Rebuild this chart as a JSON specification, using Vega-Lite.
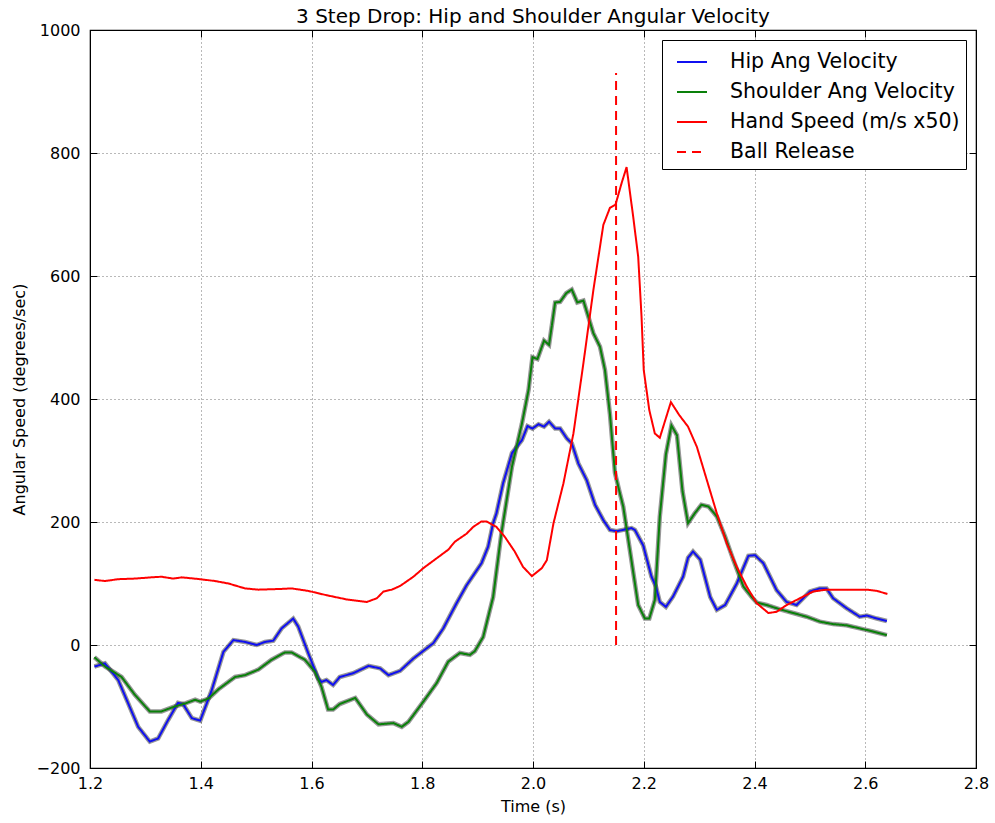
{
  "$schema": "https://vega.github.io/schema/vega-lite/v6.json",
  "width": 886,
  "height": 738,
  "autosize": {"type": "none"},
  "padding": {"left": 90, "top": 30, "right": 19, "bottom": 55},
  "background": "white",
  "title": {
    "text": "3 Step Drop: Hip and Shoulder Angular Velocity",
    "font": "DejaVu Sans",
    "fontSize": 20,
    "fontWeight": "normal",
    "color": "black",
    "anchor": "middle",
    "baseline": "alphabetic",
    "offset": -21
  },
  "config": {
    "view": {"stroke": "black", "strokeWidth": 1.2},
    "axis": {
      "labelFont": "DejaVu Sans",
      "labelFontSize": 16,
      "labelColor": "black",
      "titleFont": "DejaVu Sans",
      "titleFontSize": 16,
      "titleFontWeight": "normal",
      "titleColor": "black",
      "domainColor": "black",
      "tickColor": "black",
      "gridColor": "black",
      "gridDash": [1, 3],
      "gridOpacity": 0.55,
      "gridWidth": 1
    }
  },
  "data": {
    "values": [
      {"series": "Hip Ang Velocity", "t": 1.208, "v": -35},
      {"series": "Hip Ang Velocity", "t": 1.227, "v": -30},
      {"series": "Hip Ang Velocity", "t": 1.251, "v": -57},
      {"series": "Hip Ang Velocity", "t": 1.269, "v": -95},
      {"series": "Hip Ang Velocity", "t": 1.287, "v": -133},
      {"series": "Hip Ang Velocity", "t": 1.308, "v": -157},
      {"series": "Hip Ang Velocity", "t": 1.323, "v": -152},
      {"series": "Hip Ang Velocity", "t": 1.341, "v": -122},
      {"series": "Hip Ang Velocity", "t": 1.359, "v": -94},
      {"series": "Hip Ang Velocity", "t": 1.368, "v": -96},
      {"series": "Hip Ang Velocity", "t": 1.384, "v": -119},
      {"series": "Hip Ang Velocity", "t": 1.399, "v": -123},
      {"series": "Hip Ang Velocity", "t": 1.42, "v": -73},
      {"series": "Hip Ang Velocity", "t": 1.441, "v": -11},
      {"series": "Hip Ang Velocity", "t": 1.459, "v": 8},
      {"series": "Hip Ang Velocity", "t": 1.48, "v": 5},
      {"series": "Hip Ang Velocity", "t": 1.501, "v": 0},
      {"series": "Hip Ang Velocity", "t": 1.516, "v": 5},
      {"series": "Hip Ang Velocity", "t": 1.531, "v": 7},
      {"series": "Hip Ang Velocity", "t": 1.546, "v": 27},
      {"series": "Hip Ang Velocity", "t": 1.567, "v": 43},
      {"series": "Hip Ang Velocity", "t": 1.576, "v": 30},
      {"series": "Hip Ang Velocity", "t": 1.594, "v": -13},
      {"series": "Hip Ang Velocity", "t": 1.612, "v": -54},
      {"series": "Hip Ang Velocity", "t": 1.618, "v": -60},
      {"series": "Hip Ang Velocity", "t": 1.627, "v": -57},
      {"series": "Hip Ang Velocity", "t": 1.639, "v": -65},
      {"series": "Hip Ang Velocity", "t": 1.651, "v": -52},
      {"series": "Hip Ang Velocity", "t": 1.675, "v": -46},
      {"series": "Hip Ang Velocity", "t": 1.703, "v": -34},
      {"series": "Hip Ang Velocity", "t": 1.724, "v": -38},
      {"series": "Hip Ang Velocity", "t": 1.739, "v": -49},
      {"series": "Hip Ang Velocity", "t": 1.76, "v": -42},
      {"series": "Hip Ang Velocity", "t": 1.784, "v": -22},
      {"series": "Hip Ang Velocity", "t": 1.82, "v": 3},
      {"series": "Hip Ang Velocity", "t": 1.838, "v": 27},
      {"series": "Hip Ang Velocity", "t": 1.862, "v": 68},
      {"series": "Hip Ang Velocity", "t": 1.88, "v": 97},
      {"series": "Hip Ang Velocity", "t": 1.907, "v": 133},
      {"series": "Hip Ang Velocity", "t": 1.919, "v": 160},
      {"series": "Hip Ang Velocity", "t": 1.928, "v": 198},
      {"series": "Hip Ang Velocity", "t": 1.934, "v": 214},
      {"series": "Hip Ang Velocity", "t": 1.946, "v": 263},
      {"series": "Hip Ang Velocity", "t": 1.962, "v": 312},
      {"series": "Hip Ang Velocity", "t": 1.98, "v": 333},
      {"series": "Hip Ang Velocity", "t": 1.99, "v": 356},
      {"series": "Hip Ang Velocity", "t": 1.999, "v": 352},
      {"series": "Hip Ang Velocity", "t": 2.01, "v": 359},
      {"series": "Hip Ang Velocity", "t": 2.02, "v": 355},
      {"series": "Hip Ang Velocity", "t": 2.029, "v": 363},
      {"series": "Hip Ang Velocity", "t": 2.04, "v": 352},
      {"series": "Hip Ang Velocity", "t": 2.049, "v": 352},
      {"series": "Hip Ang Velocity", "t": 2.061, "v": 336},
      {"series": "Hip Ang Velocity", "t": 2.07, "v": 328},
      {"series": "Hip Ang Velocity", "t": 2.082, "v": 295},
      {"series": "Hip Ang Velocity", "t": 2.097, "v": 268},
      {"series": "Hip Ang Velocity", "t": 2.112, "v": 228},
      {"series": "Hip Ang Velocity", "t": 2.127, "v": 203},
      {"series": "Hip Ang Velocity", "t": 2.139, "v": 187},
      {"series": "Hip Ang Velocity", "t": 2.151, "v": 185},
      {"series": "Hip Ang Velocity", "t": 2.178, "v": 190},
      {"series": "Hip Ang Velocity", "t": 2.184, "v": 187},
      {"series": "Hip Ang Velocity", "t": 2.199, "v": 162},
      {"series": "Hip Ang Velocity", "t": 2.214, "v": 111},
      {"series": "Hip Ang Velocity", "t": 2.222, "v": 95},
      {"series": "Hip Ang Velocity", "t": 2.229, "v": 70},
      {"series": "Hip Ang Velocity", "t": 2.24, "v": 62},
      {"series": "Hip Ang Velocity", "t": 2.253, "v": 79},
      {"series": "Hip Ang Velocity", "t": 2.271, "v": 111},
      {"series": "Hip Ang Velocity", "t": 2.28, "v": 142},
      {"series": "Hip Ang Velocity", "t": 2.289, "v": 152},
      {"series": "Hip Ang Velocity", "t": 2.302, "v": 139},
      {"series": "Hip Ang Velocity", "t": 2.32, "v": 78},
      {"series": "Hip Ang Velocity", "t": 2.332, "v": 57},
      {"series": "Hip Ang Velocity", "t": 2.347, "v": 65},
      {"series": "Hip Ang Velocity", "t": 2.368, "v": 100},
      {"series": "Hip Ang Velocity", "t": 2.389, "v": 145},
      {"series": "Hip Ang Velocity", "t": 2.401, "v": 146},
      {"series": "Hip Ang Velocity", "t": 2.416, "v": 133},
      {"series": "Hip Ang Velocity", "t": 2.44, "v": 89},
      {"series": "Hip Ang Velocity", "t": 2.458, "v": 70},
      {"series": "Hip Ang Velocity", "t": 2.476, "v": 65},
      {"series": "Hip Ang Velocity", "t": 2.5, "v": 87},
      {"series": "Hip Ang Velocity", "t": 2.518, "v": 92},
      {"series": "Hip Ang Velocity", "t": 2.53, "v": 92},
      {"series": "Hip Ang Velocity", "t": 2.542, "v": 76},
      {"series": "Hip Ang Velocity", "t": 2.566, "v": 60},
      {"series": "Hip Ang Velocity", "t": 2.59, "v": 46},
      {"series": "Hip Ang Velocity", "t": 2.603, "v": 48},
      {"series": "Hip Ang Velocity", "t": 2.621, "v": 43},
      {"series": "Hip Ang Velocity", "t": 2.639, "v": 39},

      {"series": "Shoulder Ang Velocity", "t": 1.208, "v": -20},
      {"series": "Shoulder Ang Velocity", "t": 1.227, "v": -35},
      {"series": "Shoulder Ang Velocity", "t": 1.257, "v": -52},
      {"series": "Shoulder Ang Velocity", "t": 1.281, "v": -81},
      {"series": "Shoulder Ang Velocity", "t": 1.308, "v": -108},
      {"series": "Shoulder Ang Velocity", "t": 1.329, "v": -108},
      {"series": "Shoulder Ang Velocity", "t": 1.353, "v": -100},
      {"series": "Shoulder Ang Velocity", "t": 1.372, "v": -95},
      {"series": "Shoulder Ang Velocity", "t": 1.39, "v": -89},
      {"series": "Shoulder Ang Velocity", "t": 1.399, "v": -92},
      {"series": "Shoulder Ang Velocity", "t": 1.414, "v": -87},
      {"series": "Shoulder Ang Velocity", "t": 1.432, "v": -72},
      {"series": "Shoulder Ang Velocity", "t": 1.462, "v": -52},
      {"series": "Shoulder Ang Velocity", "t": 1.48, "v": -49},
      {"series": "Shoulder Ang Velocity", "t": 1.504, "v": -40},
      {"series": "Shoulder Ang Velocity", "t": 1.528, "v": -24},
      {"series": "Shoulder Ang Velocity", "t": 1.552, "v": -12},
      {"series": "Shoulder Ang Velocity", "t": 1.564, "v": -12},
      {"series": "Shoulder Ang Velocity", "t": 1.588, "v": -24},
      {"series": "Shoulder Ang Velocity", "t": 1.606, "v": -43},
      {"series": "Shoulder Ang Velocity", "t": 1.618, "v": -68},
      {"series": "Shoulder Ang Velocity", "t": 1.63, "v": -105},
      {"series": "Shoulder Ang Velocity", "t": 1.639, "v": -105},
      {"series": "Shoulder Ang Velocity", "t": 1.651, "v": -96},
      {"series": "Shoulder Ang Velocity", "t": 1.679, "v": -86},
      {"series": "Shoulder Ang Velocity", "t": 1.7, "v": -113},
      {"series": "Shoulder Ang Velocity", "t": 1.721, "v": -129},
      {"series": "Shoulder Ang Velocity", "t": 1.748, "v": -127},
      {"series": "Shoulder Ang Velocity", "t": 1.763, "v": -133},
      {"series": "Shoulder Ang Velocity", "t": 1.775, "v": -125},
      {"series": "Shoulder Ang Velocity", "t": 1.802, "v": -92},
      {"series": "Shoulder Ang Velocity", "t": 1.826, "v": -62},
      {"series": "Shoulder Ang Velocity", "t": 1.847, "v": -27},
      {"series": "Shoulder Ang Velocity", "t": 1.868, "v": -13},
      {"series": "Shoulder Ang Velocity", "t": 1.886, "v": -16},
      {"series": "Shoulder Ang Velocity", "t": 1.895, "v": -10},
      {"series": "Shoulder Ang Velocity", "t": 1.91, "v": 13},
      {"series": "Shoulder Ang Velocity", "t": 1.928, "v": 78},
      {"series": "Shoulder Ang Velocity", "t": 1.943, "v": 182},
      {"series": "Shoulder Ang Velocity", "t": 1.962, "v": 290},
      {"series": "Shoulder Ang Velocity", "t": 1.98, "v": 360},
      {"series": "Shoulder Ang Velocity", "t": 1.992, "v": 415},
      {"series": "Shoulder Ang Velocity", "t": 1.999, "v": 468},
      {"series": "Shoulder Ang Velocity", "t": 2.008, "v": 465},
      {"series": "Shoulder Ang Velocity", "t": 2.02, "v": 495},
      {"series": "Shoulder Ang Velocity", "t": 2.029, "v": 488},
      {"series": "Shoulder Ang Velocity", "t": 2.04, "v": 557},
      {"series": "Shoulder Ang Velocity", "t": 2.049, "v": 558},
      {"series": "Shoulder Ang Velocity", "t": 2.06, "v": 572},
      {"series": "Shoulder Ang Velocity", "t": 2.07, "v": 578},
      {"series": "Shoulder Ang Velocity", "t": 2.08, "v": 557},
      {"series": "Shoulder Ang Velocity", "t": 2.091, "v": 560},
      {"series": "Shoulder Ang Velocity", "t": 2.109, "v": 507},
      {"series": "Shoulder Ang Velocity", "t": 2.121, "v": 485},
      {"series": "Shoulder Ang Velocity", "t": 2.13, "v": 447},
      {"series": "Shoulder Ang Velocity", "t": 2.139, "v": 375},
      {"series": "Shoulder Ang Velocity", "t": 2.148, "v": 280},
      {"series": "Shoulder Ang Velocity", "t": 2.156, "v": 250},
      {"series": "Shoulder Ang Velocity", "t": 2.163, "v": 225},
      {"series": "Shoulder Ang Velocity", "t": 2.175, "v": 154},
      {"series": "Shoulder Ang Velocity", "t": 2.19, "v": 65},
      {"series": "Shoulder Ang Velocity", "t": 2.202, "v": 43},
      {"series": "Shoulder Ang Velocity", "t": 2.21, "v": 43},
      {"series": "Shoulder Ang Velocity", "t": 2.22, "v": 73},
      {"series": "Shoulder Ang Velocity", "t": 2.229, "v": 209},
      {"series": "Shoulder Ang Velocity", "t": 2.24, "v": 310},
      {"series": "Shoulder Ang Velocity", "t": 2.25, "v": 357},
      {"series": "Shoulder Ang Velocity", "t": 2.26, "v": 341},
      {"series": "Shoulder Ang Velocity", "t": 2.27, "v": 250},
      {"series": "Shoulder Ang Velocity", "t": 2.28, "v": 198},
      {"series": "Shoulder Ang Velocity", "t": 2.292, "v": 214},
      {"series": "Shoulder Ang Velocity", "t": 2.304, "v": 228},
      {"series": "Shoulder Ang Velocity", "t": 2.317, "v": 225},
      {"series": "Shoulder Ang Velocity", "t": 2.332, "v": 209},
      {"series": "Shoulder Ang Velocity", "t": 2.347, "v": 176},
      {"series": "Shoulder Ang Velocity", "t": 2.362, "v": 138},
      {"series": "Shoulder Ang Velocity", "t": 2.38, "v": 95},
      {"series": "Shoulder Ang Velocity", "t": 2.395, "v": 78},
      {"series": "Shoulder Ang Velocity", "t": 2.404, "v": 69},
      {"series": "Shoulder Ang Velocity", "t": 2.422, "v": 65},
      {"series": "Shoulder Ang Velocity", "t": 2.446, "v": 58},
      {"series": "Shoulder Ang Velocity", "t": 2.47, "v": 52},
      {"series": "Shoulder Ang Velocity", "t": 2.494, "v": 46},
      {"series": "Shoulder Ang Velocity", "t": 2.518, "v": 38},
      {"series": "Shoulder Ang Velocity", "t": 2.542, "v": 34},
      {"series": "Shoulder Ang Velocity", "t": 2.566, "v": 32},
      {"series": "Shoulder Ang Velocity", "t": 2.59, "v": 27},
      {"series": "Shoulder Ang Velocity", "t": 2.614, "v": 22},
      {"series": "Shoulder Ang Velocity", "t": 2.639, "v": 16},

      {"series": "Hand Speed (m/s x50)", "t": 1.208, "v": 106},
      {"series": "Hand Speed (m/s x50)", "t": 1.227, "v": 104},
      {"series": "Hand Speed (m/s x50)", "t": 1.251, "v": 107},
      {"series": "Hand Speed (m/s x50)", "t": 1.281, "v": 108},
      {"series": "Hand Speed (m/s x50)", "t": 1.311, "v": 110},
      {"series": "Hand Speed (m/s x50)", "t": 1.329, "v": 111},
      {"series": "Hand Speed (m/s x50)", "t": 1.35, "v": 108},
      {"series": "Hand Speed (m/s x50)", "t": 1.366, "v": 110},
      {"series": "Hand Speed (m/s x50)", "t": 1.399, "v": 107},
      {"series": "Hand Speed (m/s x50)", "t": 1.426, "v": 104},
      {"series": "Hand Speed (m/s x50)", "t": 1.45, "v": 100},
      {"series": "Hand Speed (m/s x50)", "t": 1.48, "v": 92},
      {"series": "Hand Speed (m/s x50)", "t": 1.504, "v": 90},
      {"series": "Hand Speed (m/s x50)", "t": 1.54, "v": 91},
      {"series": "Hand Speed (m/s x50)", "t": 1.564, "v": 92},
      {"series": "Hand Speed (m/s x50)", "t": 1.594, "v": 88},
      {"series": "Hand Speed (m/s x50)", "t": 1.627, "v": 81},
      {"series": "Hand Speed (m/s x50)", "t": 1.664, "v": 74},
      {"series": "Hand Speed (m/s x50)", "t": 1.7, "v": 70},
      {"series": "Hand Speed (m/s x50)", "t": 1.718, "v": 76},
      {"series": "Hand Speed (m/s x50)", "t": 1.73, "v": 87},
      {"series": "Hand Speed (m/s x50)", "t": 1.745, "v": 90},
      {"series": "Hand Speed (m/s x50)", "t": 1.76, "v": 96},
      {"series": "Hand Speed (m/s x50)", "t": 1.784, "v": 111},
      {"series": "Hand Speed (m/s x50)", "t": 1.802, "v": 125},
      {"series": "Hand Speed (m/s x50)", "t": 1.826, "v": 141},
      {"series": "Hand Speed (m/s x50)", "t": 1.847, "v": 155},
      {"series": "Hand Speed (m/s x50)", "t": 1.859, "v": 168},
      {"series": "Hand Speed (m/s x50)", "t": 1.88, "v": 181},
      {"series": "Hand Speed (m/s x50)", "t": 1.892, "v": 192},
      {"series": "Hand Speed (m/s x50)", "t": 1.907, "v": 201},
      {"series": "Hand Speed (m/s x50)", "t": 1.916, "v": 201},
      {"series": "Hand Speed (m/s x50)", "t": 1.934, "v": 192},
      {"series": "Hand Speed (m/s x50)", "t": 1.949, "v": 176},
      {"series": "Hand Speed (m/s x50)", "t": 1.967, "v": 152},
      {"series": "Hand Speed (m/s x50)", "t": 1.982, "v": 127},
      {"series": "Hand Speed (m/s x50)", "t": 1.998, "v": 112},
      {"series": "Hand Speed (m/s x50)", "t": 2.016, "v": 125},
      {"series": "Hand Speed (m/s x50)", "t": 2.025, "v": 138},
      {"series": "Hand Speed (m/s x50)", "t": 2.037, "v": 198},
      {"series": "Hand Speed (m/s x50)", "t": 2.055, "v": 263},
      {"series": "Hand Speed (m/s x50)", "t": 2.073, "v": 344},
      {"series": "Hand Speed (m/s x50)", "t": 2.091, "v": 458},
      {"series": "Hand Speed (m/s x50)", "t": 2.109, "v": 577},
      {"series": "Hand Speed (m/s x50)", "t": 2.127, "v": 683},
      {"series": "Hand Speed (m/s x50)", "t": 2.139, "v": 711},
      {"series": "Hand Speed (m/s x50)", "t": 2.149, "v": 716},
      {"series": "Hand Speed (m/s x50)", "t": 2.16, "v": 751},
      {"series": "Hand Speed (m/s x50)", "t": 2.169, "v": 777},
      {"series": "Hand Speed (m/s x50)", "t": 2.181, "v": 696},
      {"series": "Hand Speed (m/s x50)", "t": 2.19, "v": 631},
      {"series": "Hand Speed (m/s x50)", "t": 2.196, "v": 534},
      {"series": "Hand Speed (m/s x50)", "t": 2.2, "v": 447},
      {"series": "Hand Speed (m/s x50)", "t": 2.21, "v": 382},
      {"series": "Hand Speed (m/s x50)", "t": 2.22, "v": 344},
      {"series": "Hand Speed (m/s x50)", "t": 2.229, "v": 337},
      {"series": "Hand Speed (m/s x50)", "t": 2.249, "v": 395},
      {"series": "Hand Speed (m/s x50)", "t": 2.264, "v": 374},
      {"series": "Hand Speed (m/s x50)", "t": 2.28, "v": 355},
      {"series": "Hand Speed (m/s x50)", "t": 2.296, "v": 322},
      {"series": "Hand Speed (m/s x50)", "t": 2.314, "v": 268},
      {"series": "Hand Speed (m/s x50)", "t": 2.332, "v": 214},
      {"series": "Hand Speed (m/s x50)", "t": 2.35, "v": 165},
      {"series": "Hand Speed (m/s x50)", "t": 2.368, "v": 127},
      {"series": "Hand Speed (m/s x50)", "t": 2.386, "v": 95},
      {"series": "Hand Speed (m/s x50)", "t": 2.404, "v": 68},
      {"series": "Hand Speed (m/s x50)", "t": 2.425, "v": 52},
      {"series": "Hand Speed (m/s x50)", "t": 2.44, "v": 54},
      {"series": "Hand Speed (m/s x50)", "t": 2.458, "v": 65},
      {"series": "Hand Speed (m/s x50)", "t": 2.482, "v": 76},
      {"series": "Hand Speed (m/s x50)", "t": 2.506, "v": 87},
      {"series": "Hand Speed (m/s x50)", "t": 2.53, "v": 90},
      {"series": "Hand Speed (m/s x50)", "t": 2.566, "v": 90},
      {"series": "Hand Speed (m/s x50)", "t": 2.603, "v": 90},
      {"series": "Hand Speed (m/s x50)", "t": 2.621, "v": 88},
      {"series": "Hand Speed (m/s x50)", "t": 2.64, "v": 83},

      {"series": "Ball Release", "t": 2.15, "v": 0},
      {"series": "Ball Release", "t": 2.15, "v": 930}
    ]
  },
  "layer": [
    {
      "transform": [
        {"filter": "datum.series === 'Hip Ang Velocity' || datum.series === 'Shoulder Ang Velocity'"}
      ],
      "mark": {"type": "line", "color": "#303030", "strokeWidth": 4.5, "opacity": 0.5},
      "encoding": {
        "x": {
          "field": "t",
          "type": "quantitative",
          "scale": {"domain": [1.2, 2.8], "nice": false, "zero": false},
          "axis": {
            "orient": "bottom",
            "title": "Time (s)",
            "values": [1.2, 1.4, 1.6, 1.8, 2.0, 2.2, 2.4, 2.6, 2.8],
            "format": ".1f",
            "tickSize": -7,
            "labelPadding": 14,
            "titlePadding": 7,
            "labelFlush": false,
            "grid": true
          }
        },
        "y": {
          "field": "v",
          "type": "quantitative",
          "scale": {"domain": [-200, 1000], "nice": false, "zero": false},
          "axis": {
            "orient": "left",
            "title": "Angular Speed (degrees/sec)",
            "values": [-200, 0, 200, 400, 600, 800, 1000],
            "format": "d",
            "tickSize": -7,
            "labelPadding": 17,
            "titlePadding": 9,
            "labelFlush": false,
            "grid": true
          }
        },
        "detail": {"field": "series"}
      }
    },
    {
      "mark": {"type": "line"},
      "encoding": {
        "x": {
          "field": "t",
          "type": "quantitative",
          "scale": {"domain": [1.2, 2.8], "nice": false, "zero": false},
          "axis": {
            "orient": "top",
            "title": null,
            "values": [1.2, 1.4, 1.6, 1.8, 2.0, 2.2, 2.4, 2.6, 2.8],
            "labels": false,
            "tickSize": -7,
            "grid": false
          }
        },
        "y": {
          "field": "v",
          "type": "quantitative",
          "scale": {"domain": [-200, 1000], "nice": false, "zero": false},
          "axis": {
            "orient": "right",
            "title": null,
            "values": [-200, 0, 200, 400, 600, 800, 1000],
            "labels": false,
            "tickSize": -7,
            "grid": false
          }
        },
        "color": {
          "field": "series",
          "type": "nominal",
          "scale": {
            "domain": ["Hip Ang Velocity", "Shoulder Ang Velocity", "Hand Speed (m/s x50)", "Ball Release"],
            "range": ["#1010f0", "#0a800a", "#ff0000", "#ff0000"]
          },
          "legend": {
            "title": null,
            "orient": "top-right",
            "offset": 10,
            "fillColor": "white",
            "strokeColor": "black",
            "padding": 6,
            "symbolOffset": 8,
            "symbolType": "stroke",
            "symbolSize": 900,
            "symbolStrokeWidth": 1.5,
            "labelFont": "DejaVu Sans",
            "labelFontSize": 20.5,
            "labelColor": "black",
            "labelOffset": 22,
            "labelLimit": 400,
            "rowPadding": 3
          }
        },
        "strokeDash": {
          "field": "series",
          "type": "nominal",
          "scale": {
            "domain": ["Hip Ang Velocity", "Shoulder Ang Velocity", "Hand Speed (m/s x50)", "Ball Release"],
            "range": [[1, 0], [1, 0], [1, 0], [9, 6]]
          },
          "legend": {
            "title": null,
            "orient": "top-right",
            "offset": 10,
            "fillColor": "white",
            "strokeColor": "black",
            "padding": 6,
            "symbolOffset": 8,
            "symbolType": "stroke",
            "symbolSize": 900,
            "symbolStrokeWidth": 1.5,
            "labelFont": "DejaVu Sans",
            "labelFontSize": 20.5,
            "labelColor": "black",
            "labelOffset": 22,
            "labelLimit": 400,
            "rowPadding": 3
          }
        },
        "strokeWidth": {
          "field": "series",
          "type": "nominal",
          "scale": {
            "domain": ["Hip Ang Velocity", "Shoulder Ang Velocity", "Hand Speed (m/s x50)", "Ball Release"],
            "range": [2, 2, 1.5, 1.6]
          },
          "legend": null
        }
      }
    }
  ],
  "resolve": {"axis": {"x": "independent", "y": "independent"}}
}
